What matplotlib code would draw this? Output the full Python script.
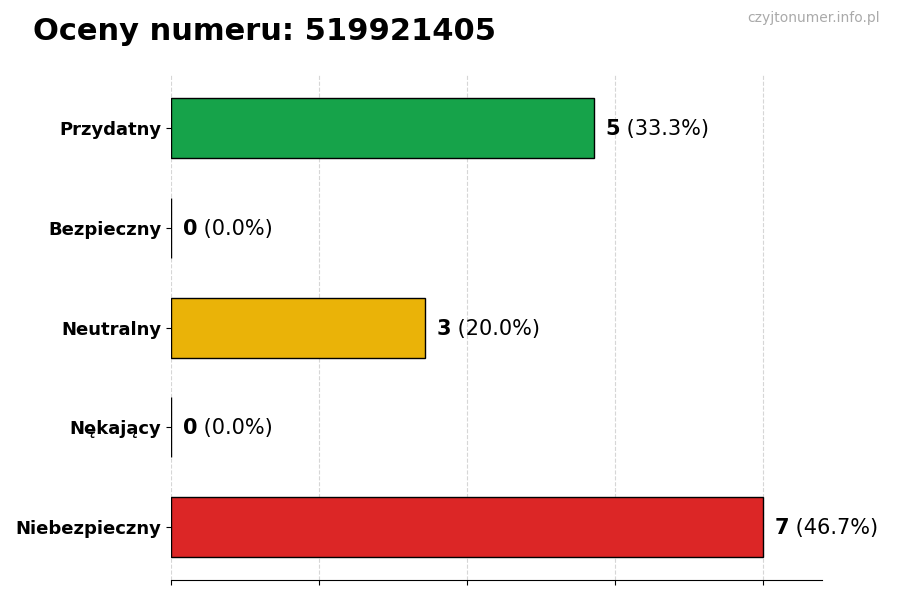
import matplotlib
matplotlib.use("Agg")
from matplotlib import pyplot as plt

# data
categories = ["Przydatny", "Bezpieczny", "Neutralny", "Nękający", "Niebezpieczny"]
counts = [5, 0, 3, 0, 7]
colors = ["#16a34a", "#9ca3af", "#eab308", "#f97316", "#dc2626"]
number = "519921405"

total = sum(counts)
ypos = list(range(len(categories)))[::-1]

fig = plt.figure(figsize=(9, 6), dpi=100)
ax = fig.add_axes([0.19, 0.033, 0.723, 0.842])

ax.barh(ypos, counts, height=0.6, color=colors, edgecolor="black", linewidth=1)

xmax = max(counts) * 1.1
ax.set_xlim(0, xmax)
ax.set_xticks([max(counts) * i / 4 for i in range(5)])
ax.set_xticklabels([])
ax.grid(axis="x", linestyle="--", color="#cccccc", alpha=0.8)
ax.set_axisbelow(True)

ax.set_yticks(ypos)
ax.set_yticklabels(categories, fontsize=13, fontweight="bold")

for side in ["top", "right", "left"]:
    ax.spines[side].set_visible(False)

# value labels: bold count + normal percentage
for y, c in zip(ypos, counts):
    pct = c / total * 100
    t = ax.text(c + 0.14, y - 0.01, str(c), fontsize=15, fontweight="bold",
                va="center", ha="left")
    ax.annotate(" (%.1f%%)" % pct, xy=(1, 0), xycoords=t,
                va="bottom", ha="left", fontsize=15)

fig.text(0.037, 0.947, "Oceny numeru: " + number, fontsize=22,
         fontweight="bold", ha="left", va="center")
fig.text(0.978, 0.97, "czyjtonumer.info.pl", fontsize=10, color="#aaaaaa",
         ha="right", va="center")

fig.savefig("out.png", dpi=100)
